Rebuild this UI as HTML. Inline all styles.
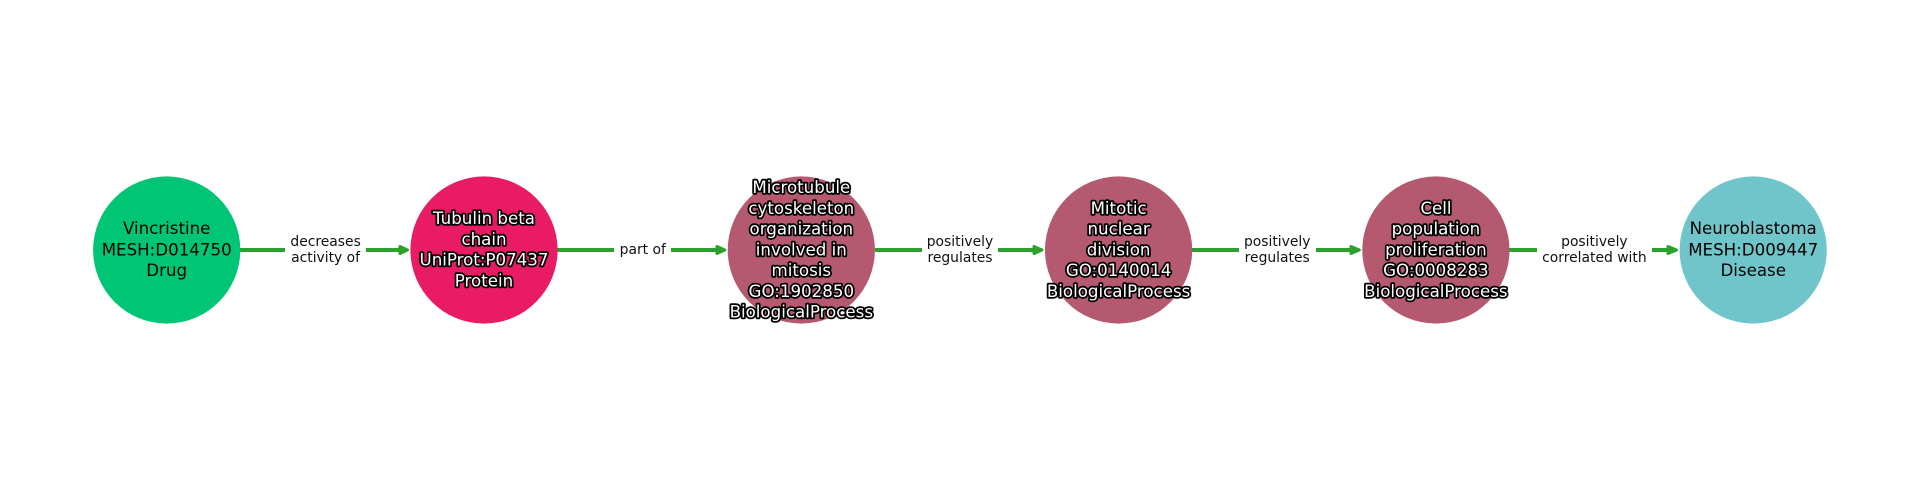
<!DOCTYPE html>
<html><head><meta charset="utf-8"><style>
html,body{margin:0;padding:0;background:#fff}
svg{display:block}
text{font-family:"DejaVu Sans",sans-serif;text-anchor:middle}
.n{font-size:16.67px;fill:#000}
.o{font-size:16.67px;fill:#fff;stroke:#000;stroke-width:3.5px;paint-order:stroke;stroke-linejoin:round}
.e{font-size:13.89px;fill:#111}
.l{stroke:#2ca02c;stroke-width:4px;fill:none}
.a{fill:#2ca02c;stroke:#2ca02c;stroke-width:3px;stroke-linejoin:round}
</style></head><body>
<svg width="1920" height="500" viewBox="0 0 1920 500" xmlns="http://www.w3.org/2000/svg">
<rect width="1920" height="500" fill="#fff"/>
<path class="l" d="M240 250H285M366 250H402"/><path class="a" d="M400 246.500L407.500 250L400 253.500Z"/>
<path class="l" d="M557 250H614M671 250H719"/><path class="a" d="M717 246.500L724.800 250L717 253.500Z"/>
<path class="l" d="M875 250H922M998 250H1036"/><path class="a" d="M1034 246.500L1042 250L1034 253.500Z"/>
<path class="l" d="M1192 250H1239M1316 250H1353"/><path class="a" d="M1351 246.500L1359.300 250L1351 253.500Z"/>
<path class="l" d="M1509 250H1537M1652 250H1670"/><path class="a" d="M1668 246.500L1676.600 250L1668 253.500Z"/>
<circle cx="166.700" cy="250" r="73.600" fill="#00c575"/>
<circle cx="484" cy="250" r="73.600" fill="#e91b64"/>
<circle cx="801.300" cy="250" r="73.600" fill="#b55970"/>
<circle cx="1118.600" cy="250" r="73.600" fill="#b55970"/>
<circle cx="1435.900" cy="250" r="73.600" fill="#b55970"/>
<circle cx="1753.200" cy="250" r="73.600" fill="#70c5cb"/>
<text class="n" x="166.700" y="234">Vincristine</text>
<text class="n" x="166.700" y="255.500">MESH:D014750</text>
<text class="n" x="166.700" y="276">Drug</text>
<text class="o" x="484" y="224">Tubulin beta</text>
<text class="o" x="484" y="245">chain</text>
<text class="o" x="484" y="265.500">UniProt:P07437</text>
<text class="o" x="484" y="286.500">Protein</text>
<text class="o" x="801.300" y="193">Microtubule</text>
<text class="o" x="801.300" y="214">cytoskeleton</text>
<text class="o" x="801.300" y="234.500">organization</text>
<text class="o" x="801.300" y="255.500">involved in</text>
<text class="o" x="801.300" y="276">mitosis</text>
<text class="o" x="801.300" y="297">GO:1902850</text>
<text class="o" x="801.300" y="317.500">BiologicalProcess</text>
<text class="o" x="1118.600" y="214">Mitotic</text>
<text class="o" x="1118.600" y="234.500">nuclear</text>
<text class="o" x="1118.600" y="255.500">division</text>
<text class="o" x="1118.600" y="276">GO:0140014</text>
<text class="o" x="1118.600" y="297">BiologicalProcess</text>
<text class="o" x="1435.900" y="214">Cell</text>
<text class="o" x="1435.900" y="234.500">population</text>
<text class="o" x="1435.900" y="255.500">proliferation</text>
<text class="o" x="1435.900" y="276">GO:0008283</text>
<text class="o" x="1435.900" y="297">BiologicalProcess</text>
<text class="n" x="1753.200" y="234">Neuroblastoma</text>
<text class="n" x="1753.200" y="255.500">MESH:D009447</text>
<text class="n" x="1753.200" y="276">Disease</text>
<text class="e" x="325.600" y="246">decreases</text>
<text class="e" x="325.600" y="262">activity of</text>
<text class="e" x="642.800" y="254">part of</text>
<text class="e" x="960" y="246">positively</text>
<text class="e" x="960" y="262">regulates</text>
<text class="e" x="1277.200" y="246">positively</text>
<text class="e" x="1277.200" y="262">regulates</text>
<text class="e" x="1594.400" y="246">positively</text>
<text class="e" x="1594.400" y="262">correlated with</text>
</svg>
</body></html>
